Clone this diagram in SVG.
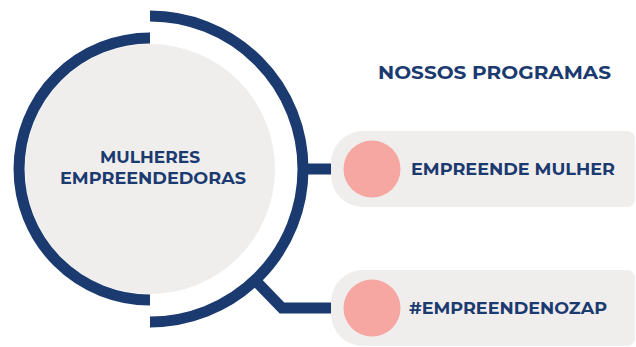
<svg xmlns="http://www.w3.org/2000/svg" width="636" height="347" viewBox="0 0 636 347">
<style>
.arc{fill:none;stroke:#1b3a70;stroke-width:11}
.con{fill:none;stroke:#1b3a70;stroke-width:11;stroke-linejoin:miter}
.pill{fill:#f0eeed}
.dot{fill:#f7a7a2}
.t{font-family:Montserrat,"Open Sans","Liberation Sans",sans-serif;font-weight:bold;fill:#1b3a70}
</style>
<rect width="636" height="347" fill="#ffffff"/>
<g id="connectors">
<path class="con" d="M300 169 H336"/>
<path class="con" d="M254 279 L282 308 H336"/>
</g>
<g id="center">
<circle cx="150" cy="169" r="125" fill="#f0eeed"/>
<path class="arc" d="M150 38 A131 131 0 0 0 150 300"/>
<path class="arc" d="M150 16 A153 153 0 0 1 150 322"/>
<text class="t" x="150" y="163" font-size="16.5" text-anchor="middle" textLength="100" lengthAdjust="spacingAndGlyphs">MULHERES</text>
<text class="t" x="153" y="184" font-size="16.5" text-anchor="middle" textLength="186" lengthAdjust="spacingAndGlyphs">EMPREENDEDORAS</text>
</g>
<g id="title">
<text class="t" x="378" y="79" font-size="18" textLength="233" lengthAdjust="spacingAndGlyphs">NOSSOS PROGRAMAS</text>
</g>
<g id="prog1">
<path class="pill" d="M363 131 H627 A8 8 0 0 1 635 139 V199 A8 8 0 0 1 627 207 H363 A32 32 0 0 1 331 175 V163 A32 32 0 0 1 363 131 Z"/>
<circle class="dot" cx="372" cy="169" r="28.5"/>
<text class="t" x="411" y="175" font-size="16.5" textLength="204" lengthAdjust="spacingAndGlyphs">EMPREENDE MULHER</text>
</g>
<g id="prog2">
<path class="pill" d="M363 270 H627 A8 8 0 0 1 635 278 V338 A8 8 0 0 1 627 346 H363 A32 32 0 0 1 331 314 V302 A32 32 0 0 1 363 270 Z"/>
<circle class="dot" cx="372" cy="308" r="28.5"/>
<text class="t" x="409" y="314" font-size="16.5" textLength="198" lengthAdjust="spacingAndGlyphs">#EMPREENDENOZAP</text>
</g>
</svg>
